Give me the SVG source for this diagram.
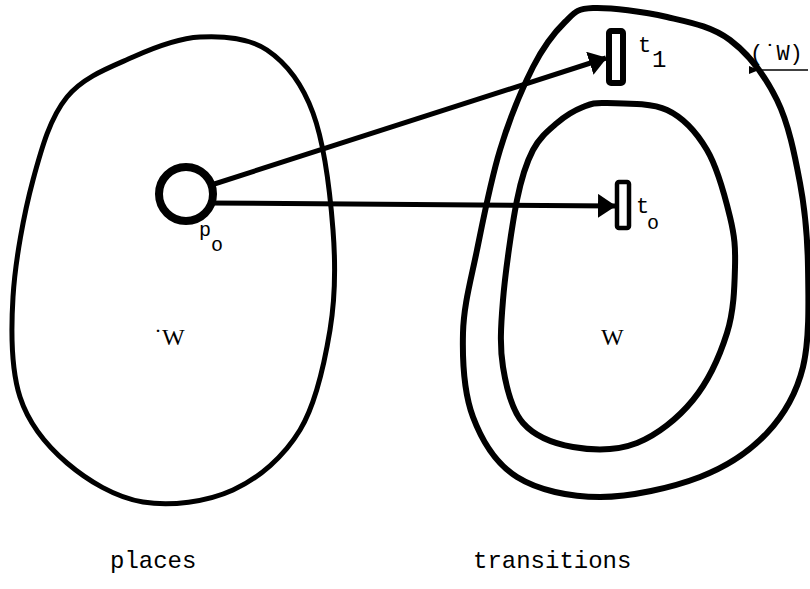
<svg xmlns="http://www.w3.org/2000/svg" width="810" height="589" viewBox="0 0 810 589">
<style>
.blob{fill:none;stroke:#000;stroke-linejoin:round}
.t{font-family:"Liberation Mono","DejaVu Sans Mono",monospace;fill:#000}
.s{font-family:"Liberation Serif","DejaVu Serif",serif;fill:#000}
.arc{stroke:#000;stroke-width:5;fill:none}
.bar{fill:#fff;stroke:#000}
</style>
<defs>
<marker id="ah" viewBox="0 0 18 24" refX="17" refY="12" markerWidth="18" markerHeight="24" markerUnits="userSpaceOnUse" orient="auto">
<path d="M0,0 L18,12 L0,24 Z" fill="#000"/>
</marker>
<marker id="ahs" viewBox="0 0 10 8" refX="1" refY="4" markerWidth="10" markerHeight="8" markerUnits="userSpaceOnUse" orient="auto">
<path d="M10,0 L0,4 L10,8 Z" fill="#000"/>
</marker>
</defs>
<rect width="810" height="589" fill="#fff"/>
<g id="places-set">
<path class="blob" stroke-width="5" d="M200,37 C222.3,35.8 248.2,37.3 267,50 C285.8,62.7 302,83 313,113 C324,143 330.2,193.8 333,230 C335.8,266.2 335.5,296.7 330,330 C324.5,363.3 316.2,403.3 300,430 C283.8,456.7 259.2,478 233,490 C206.8,502 170.7,506.5 143,502 C115.3,497.5 87.5,480.5 67,463 C46.5,445.5 29,424.7 20,397 C11,369.3 10.8,333.2 13,297 C15.2,260.8 24,213.3 33,180 C42,146.7 50.3,117.5 67,97 C83.7,76.5 110.8,67 133,57 C155.2,47 177.7,38.2 200,37 Z"/>
<text class="s" x="154" y="345" font-size="24">˙W</text>
</g>
<g id="preset-W">
<path class="blob" stroke-width="6" d="M593,8 C610,7.2 644.2,11.7 667,17 C689.8,22.3 711.7,26.2 730,40 C748.3,53.8 765.3,76.2 777,100 C788.7,123.8 794.8,155.2 800,183 C805.2,210.8 807.5,236.3 808,267 C808.5,297.7 809.8,339.3 803,367 C796.2,394.7 784.2,414.7 767,433 C749.8,451.3 727.8,466.3 700,477 C672.2,487.7 630.5,497 600,497 C569.5,497 538.2,490.3 517,477 C495.8,463.7 482,441 473,417 C464,393 462.3,360.8 463,333 C463.7,305.2 470.8,280.5 477,250 C483.2,219.5 490.7,180.5 500,150 C509.3,119.5 522.2,88.3 533,67 C543.8,45.7 555,31.8 565,22 C575,12.2 576,8.8 593,8 Z"/>
<text class="t" x="750" y="60" font-size="22">(˙W)</text>
</g>
<g id="W-set">
<path class="blob" stroke-width="6" d="M607,103 C621,103.5 650.3,102.2 667,110 C683.7,117.8 696.5,132.2 707,150 C717.5,167.8 725.3,197.5 730,217 C734.7,236.5 735.5,247.7 735,267 C734.5,286.3 734,310.8 727,333 C720,355.2 708,381.7 693,400 C678,418.3 657,435.2 637,443 C617,450.8 592,450.3 573,447 C554,443.7 534.7,436.3 523,423 C511.3,409.7 506.3,387.5 503,367 C499.7,346.5 500.7,327.8 503,300 C505.3,272.2 512,225 517,200 C522,175 526.3,162.8 533,150 C539.7,137.2 548.7,130.2 557,123 C565.3,115.8 574.7,110.3 583,107 C591.3,103.7 593,102.5 607,103 Z"/>
<text class="s" x="601" y="345" font-size="24">W</text>
</g>
<g id="connectors">
<line class="arc" x1="205" y1="187" x2="606" y2="58" marker-end="url(#ah)"/>
<line class="arc" x1="205" y1="203" x2="615" y2="206" marker-end="url(#ah)"/>
<line x1="808" y1="70" x2="758" y2="70" stroke="#000" stroke-width="1.5" marker-end="url(#ahs)"/>
</g>
<g id="p0">
<circle cx="186" cy="194" r="27" fill="#fff" stroke="#000" stroke-width="8"/>
<text class="t" x="199" y="236" font-size="20">p</text>
<text class="t" x="211" y="251" font-size="20">o</text>
</g>
<g id="t1">
<rect class="bar" x="609" y="31" width="14" height="52" rx="2" stroke-width="6"/>
<text class="t" x="638" y="52" font-size="22">t</text>
<text class="t" x="652" y="67" font-size="24">1</text>
</g>
<g id="t0">
<rect class="bar" x="617" y="182" width="12" height="46" rx="2" stroke-width="4.5"/>
<text class="t" x="636" y="213" font-size="22">t</text>
<text class="t" x="647" y="229" font-size="20">o</text>
</g>
<g id="labels">
<text class="t" x="110" y="568" font-size="24">places</text>
<text class="t" x="473" y="568" font-size="24">transitions</text>
</g>
</svg>
